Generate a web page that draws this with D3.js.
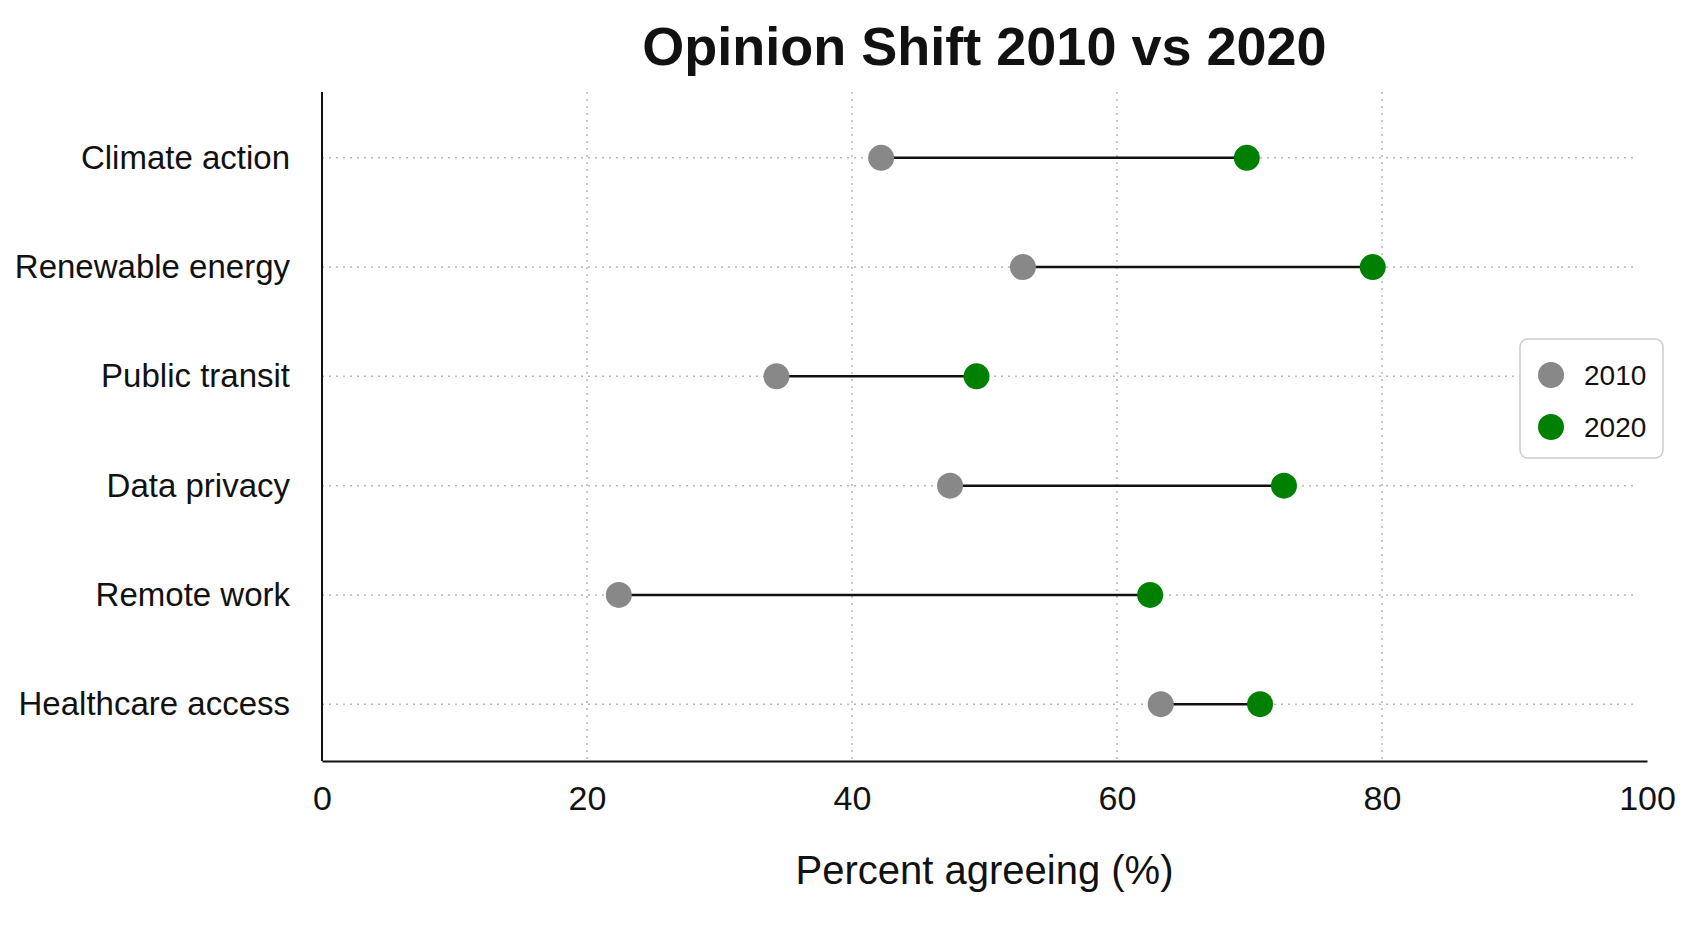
<!DOCTYPE html>
<html lang="en">
  <head>
    <meta charset="UTF-8" />
    <title>Opinion Shift 2010 vs 2020</title>
    <style>
      body { margin: 0; background: #fff; }
      text { font-family: "Liberation Sans", Arial, sans-serif; fill: #111; }
    </style>
  </head>
  <body>
    <svg id="chart" width="1693" height="929"></svg>
    <script src="https://d3js.org/d3.v7.min.js"></script>
    <script>
      // data
      const categories = ["Climate action", "Renewable energy", "Public transit", "Data privacy", "Remote work", "Healthcare access"];
      const values2010 = [42.2, 52.9, 34.3, 47.4, 22.4, 63.3];
      const values2020 = [69.8, 79.3, 49.4, 72.6, 62.5, 70.8];
      const xTicks = [0, 20, 40, 60, 80, 100];
      const seriesNames = ["2010", "2020"];
      const seriesColors = ["#888888", "#008000"];

      const rows = categories.map((c, i) => ({ cat: c, a: values2010[i], b: values2020[i] }));

      const mLeft = 322, mRight = 1647, mTop = 92, mBottom = 761;
      const svg = d3.select("#chart");

      const x = d3.scaleLinear().domain([0, 100]).range([mLeft, mRight]);
      // rows sit a little lower than centred in the reference
      const y = d3.scalePoint().domain(categories).range([mTop + 9, mBottom]).padding(0.52);

      // grid
      svg.append("g")
        .selectAll("line")
        .data(xTicks.filter((t) => t > 0 && t < 100))
        .join("line")
        .attr("x1", (d) => x(d))
        .attr("x2", (d) => x(d))
        .attr("y1", mTop)
        .attr("y2", mBottom)
        .attr("stroke", "#b5b5b5")
        .attr("stroke-width", 1.5)
        .attr("stroke-dasharray", "2,5");

      svg.append("g")
        .selectAll("line")
        .data(categories)
        .join("line")
        .attr("x1", mLeft)
        .attr("x2", mRight - 10)
        .attr("y1", (d) => y(d))
        .attr("y2", (d) => y(d))
        .attr("stroke", "#b5b5b5")
        .attr("stroke-width", 1.5)
        .attr("stroke-dasharray", "2,5");

      // axes
      const xAxis = svg.append("g")
        .attr("transform", `translate(0,${mBottom})`)
        .call(d3.axisBottom(x).tickValues(xTicks).tickSize(0).tickPadding(25));
      xAxis.select(".domain").attr("stroke", "#111").attr("stroke-width", 2);
      xAxis.selectAll("text").attr("font-size", 34).attr("font-family", "Liberation Sans, Arial, sans-serif").attr("fill", "#111");

      const yAxis = svg.append("g")
        .attr("transform", `translate(${mLeft},0)`)
        .call(d3.axisLeft(y).tickSize(0).tickPadding(32));
      // spine runs the full plot height
      yAxis.select(".domain").attr("d", `M0,${mTop}V${mBottom}`).attr("stroke", "#111").attr("stroke-width", 2);
      yAxis.selectAll("text").attr("font-size", 33).attr("font-family", "Liberation Sans, Arial, sans-serif").attr("fill", "#111");

      // connecting lines
      svg.append("g")
        .selectAll("line")
        .data(rows)
        .join("line")
        .attr("x1", (d) => x(d.a))
        .attr("x2", (d) => x(d.b))
        .attr("y1", (d) => y(d.cat))
        .attr("y2", (d) => y(d.cat))
        .attr("stroke", "#111")
        .attr("stroke-width", 2.5);

      // dots
      svg.append("g")
        .selectAll("circle")
        .data(rows)
        .join("circle")
        .attr("cx", (d) => x(d.a))
        .attr("cy", (d) => y(d.cat))
        .attr("r", 13)
        .attr("fill", seriesColors[0]);

      svg.append("g")
        .selectAll("circle")
        .data(rows)
        .join("circle")
        .attr("cx", (d) => x(d.b))
        .attr("cy", (d) => y(d.cat))
        .attr("r", 13)
        .attr("fill", seriesColors[1]);

      // title + x label
      svg.append("text")
        .attr("x", (mLeft + mRight) / 2)
        .attr("y", 65)
        .attr("text-anchor", "middle")
        .attr("font-size", 54)
        .attr("font-weight", "bold")
        .text("Opinion Shift 2010 vs 2020");

      svg.append("text")
        .attr("x", (mLeft + mRight) / 2)
        .attr("y", 884)
        .attr("text-anchor", "middle")
        .attr("font-size", 40)
        .text("Percent agreeing (%)");

      // legend
      const lg = svg.append("g").attr("transform", "translate(1520,339)");
      lg.append("rect")
        .attr("width", 143)
        .attr("height", 119)
        .attr("rx", 8)
        .attr("fill", "#fff")
        .attr("stroke", "#ccc")
        .attr("stroke-width", 1.5);
      const item = lg.selectAll(".item")
        .data(seriesNames)
        .join("g")
        .attr("class", "item")
        .attr("transform", (d, i) => `translate(0,${36 + i * 52})`);
      item.append("circle").attr("cx", 31).attr("r", 13).attr("fill", (d, i) => seriesColors[i]);
      item.append("text").attr("x", 64).attr("y", 10).attr("font-size", 28).text((d) => d);
    </script>
  </body>
</html>
